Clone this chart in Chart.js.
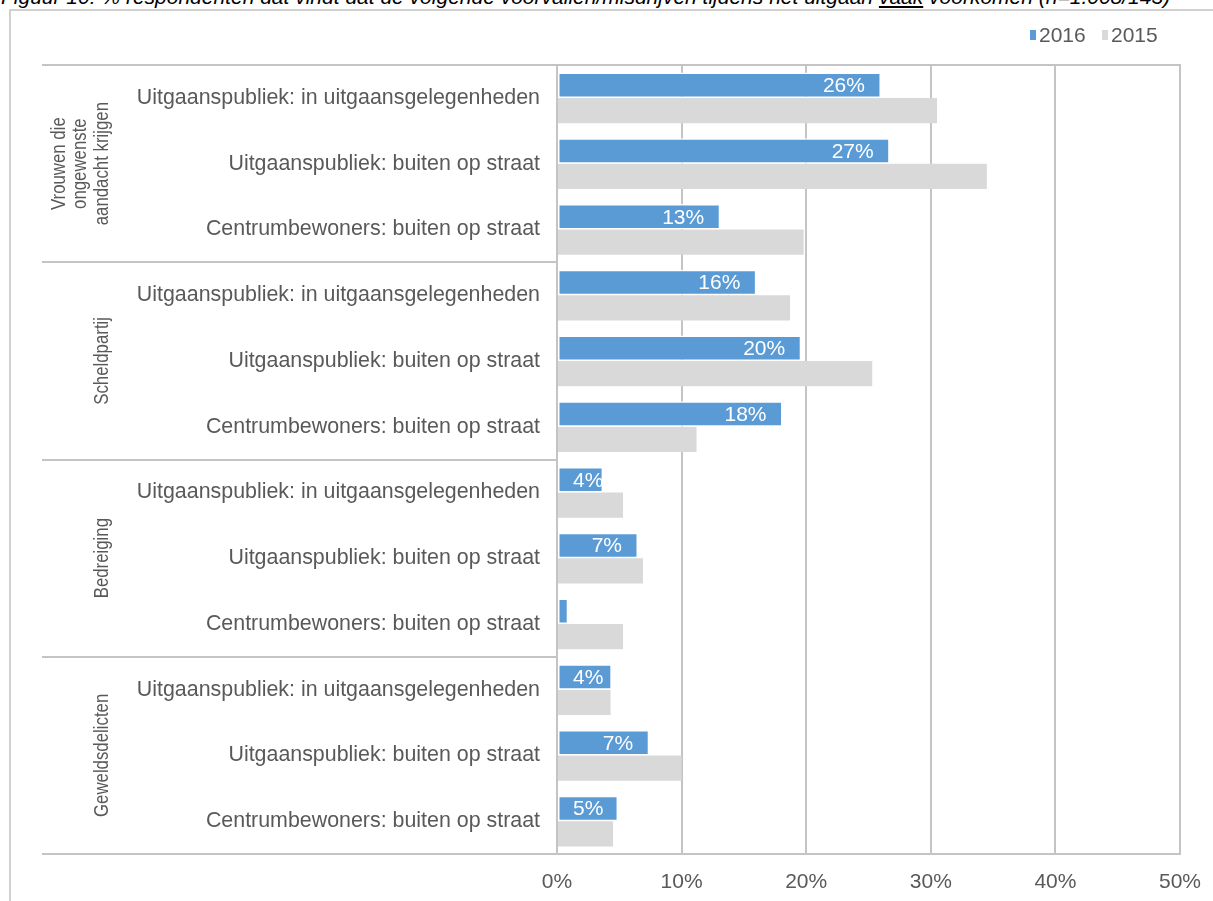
<!DOCTYPE html>
<html>
<head>
<meta charset="utf-8">
<script src="https://cdn.jsdelivr.net/npm/chart.js@4.4.0/dist/chart.umd.min.js"></script>
<style>
  body { margin: 0; background: #fff; overflow: hidden; }
  #title { position: absolute; left: 1px; top: -15px; font: italic 21px "Liberation Sans", Arial, sans-serif; white-space: nowrap; color: #000; }
  #frame { position: absolute; left: 9px; top: 9px; width: 1212px; height: 900px; border: 2px solid #d0d0d0; box-sizing: border-box; }
  #wrap { position: absolute; left: 0; top: 0; width: 1213px; height: 901px; }
</style>
</head>
<body>
<div id="title">Figuur 10: % respondenten dat vindt dat de volgende voorvallen/misdrijven tijdens het uitgaan <u>vaak</u> voorkomen (n=1.008/143)</div>
<div id="frame"></div>
<div id="wrap"><canvas id="chart"></canvas></div>
<script>
// data
const categories = [
  "Uitgaanspubliek: in uitgaansgelegenheden", "Uitgaanspubliek: buiten op straat", "Centrumbewoners: buiten op straat",
  "Uitgaanspubliek: in uitgaansgelegenheden", "Uitgaanspubliek: buiten op straat", "Centrumbewoners: buiten op straat",
  "Uitgaanspubliek: in uitgaansgelegenheden", "Uitgaanspubliek: buiten op straat", "Centrumbewoners: buiten op straat",
  "Uitgaanspubliek: in uitgaansgelegenheden", "Uitgaanspubliek: buiten op straat", "Centrumbewoners: buiten op straat"
];
const groupLabels = [
  ["Vrouwen die", "ongewenste", "aandacht krijgen"],
  ["Scheldpartij"],
  ["Bedreiging"],
  ["Geweldsdelicten"]
];
const groupSize = 3;
const values2016 = [26.0, 26.7, 13.1, 16.0, 19.6, 18.1, 3.7, 6.5, 0.9, 4.4, 7.4, 4.9];
const values2015 = [30.5, 34.5, 19.8, 18.7, 25.3, 11.2, 5.3, 6.9, 5.3, 4.3, 10.0, 4.5];
const xTicks = [0, 10, 20, 30, 40, 50];

const FONT = '"Liberation Sans", Arial, sans-serif';
const TEXT = "#595959";
const GRID = "#c4c4c4";
const BLUE = "#5b9bd5";
const GREY = "#d9d9d9";

// separators, group names, value labels and legend
const groupPlugin = {
  id: "groups",
  beforeDatasetsDraw(chart) {
    const { ctx, chartArea } = chart;
    const rowH = (chartArea.bottom - chartArea.top) / categories.length;
    ctx.save();
    ctx.strokeStyle = GRID;
    ctx.lineWidth = 2;
    for (let g = 0; g <= groupLabels.length; g++) {
      const yy = Math.round(chartArea.top + g * groupSize * rowH);
      const last = g === 0 || g === groupLabels.length;
      ctx.beginPath();
      ctx.moveTo(42, yy);
      ctx.lineTo(last ? chartArea.right + 1 : chartArea.left, yy);
      ctx.stroke();
    }
    ctx.fillStyle = TEXT;
    ctx.font = "21px " + FONT;
    ctx.textAlign = "center";
    ctx.textBaseline = "middle";
    groupLabels.forEach((lines, g) => {
      const cy = chartArea.top + (g + 0.5) * groupSize * rowH;
      lines.forEach((txt, i) => {
        const cx = 102 - (lines.length - 1 - i) * 21.5;
        ctx.save();
        ctx.translate(cx, cy);
        ctx.rotate(-Math.PI / 2);
        ctx.scale(0.8, 1); // rotated names run shorter in the original
        ctx.fillText(txt, 0, 0);
        ctx.restore();
      });
    });
    ctx.restore();
  },
  afterDatasetsDraw(chart) {
    const { ctx, chartArea } = chart;
    const meta = chart.getDatasetMeta(0);
    ctx.save();
    ctx.fillStyle = "#fff";
    ctx.font = "21px " + FONT;
    ctx.textAlign = "right";
    ctx.textBaseline = "middle";
    meta.data.forEach((bar, i) => {
      const v = values2016[i];
      if (v < 2) return;
      const txt = Math.round(v) + "%";
      const w = ctx.measureText(txt).width;
      const x = Math.max(bar.x - 16, chartArea.left + 16 + w);
      ctx.fillText(txt, x, bar.y + 1);
    });

    // legend
    ctx.textAlign = "left";
    const items = [["2016", BLUE, 1030], ["2015", GREY, 1102]];
    items.forEach(([name, col, x0]) => {
      ctx.fillStyle = col;
      ctx.fillRect(x0, 30, 6, 10);
      ctx.fillStyle = TEXT;
      ctx.fillText(name, x0 + 9, 36);
    });
    ctx.restore();
  }
};

new Chart(document.getElementById("chart"), {
  type: "bar",
  data: {
    labels: categories,
    datasets: [
      { label: "2016", data: values2016, backgroundColor: BLUE, borderColor: "#fff", borderWidth: 1.5, borderSkipped: false,
        categoryPercentage: 0.77, barPercentage: 1.0 },
      { label: "2015", data: values2015, backgroundColor: GREY, borderWidth: 0,
        categoryPercentage: 0.77, barPercentage: 1.0 }
    ]
  },
  options: {
    indexAxis: "y",
    responsive: true,
    maintainAspectRatio: false,
    animation: false,
    layout: { padding: { left: 0, right: 33, top: 65, bottom: 0 } },
    plugins: {
      legend: { display: false },
      tooltip: { enabled: false }
    },
    scales: {
      x: {
        min: 0, max: 50,
        afterBuildTicks(scale) { scale.ticks = xTicks.map(v => ({ value: v })); },
        afterFit(scale) { scale.height = 47; scale.paddingRight = 0; scale.paddingLeft = 0; },
        grid: { color: GRID, lineWidth: 2, drawTicks: false },
        border: { display: false },
        ticks: { padding: 16, color: TEXT, font: { family: FONT, size: 21 }, callback: v => v + "%" }
      },
      y: {
        afterFit(scale) { scale.width = 557; },
        grid: { display: false, drawTicks: false },
        border: { display: false },
        ticks: { padding: 17, color: TEXT, font: { family: FONT, size: 21.4 } }
      }
    }
  },
  plugins: [groupPlugin]
});
</script>
</body>
</html>
